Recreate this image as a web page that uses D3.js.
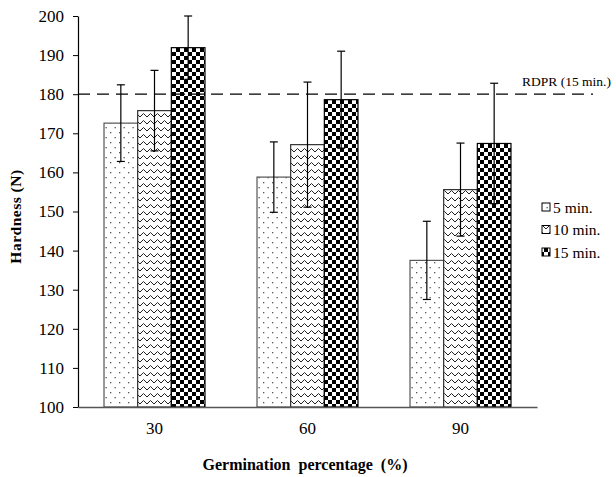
<!DOCTYPE html>
<html><head><meta charset="utf-8">
<script src="https://cdn.jsdelivr.net/npm/d3@7"></script>
<style>body{margin:0;background:#fff}</style>
</head><body>
<svg id="c" width="616" height="477"></svg>
<script>
const categories = ["30", "60", "90"];
const seriesNames = ["5 min.", "10 min.", "15 min."];
const values5 = [172.6, 158.8, 137.5];
const values10 = [175.8, 167.1, 155.6];
const values15 = [191.9, 178.6, 167.4];
const err5 = [9.8, 9.0, 10.0];
const err10 = [10.3, 16.0, 11.9];
const err15 = [8.1, 12.4, 15.4];
const yTicks = [100, 110, 120, 130, 140, 150, 160, 170, 180, 190, 200];
const refValue = 180;
const refLabel = "RDPR (15 min.)";

const FONT = "Liberation Serif";
const svg = d3.select("#c");
const L = 78, R = 537, T = 16, B = 407;
const x = d3.scaleBand().domain(categories).range([L, R]).paddingInner(0.34).paddingOuter(0.17);
const xs = d3.scaleBand().domain(seriesNames).range([0, x.bandwidth()]);
const y = d3.scaleLinear().domain([100, 200]).range([B, T]);

const defs = svg.append("defs");
const p1 = defs.append("pattern").attr("id", "pDots").attr("patternUnits", "userSpaceOnUse").attr("width", 9).attr("height", 10);
p1.append("rect").attr("width", 9).attr("height", 10).attr("fill", "#fff");
p1.append("rect").attr("x", 2).attr("y", 2).attr("width", 1.3).attr("height", 1.3).attr("fill", "#555");
p1.append("rect").attr("x", 6.5).attr("y", 7).attr("width", 1.3).attr("height", 1.3).attr("fill", "#555");
const p2 = defs.append("pattern").attr("id", "pZig").attr("patternUnits", "userSpaceOnUse").attr("width", 7).attr("height", 7);
p2.append("rect").attr("width", 7).attr("height", 7).attr("fill", "#fff");
p2.append("path").attr("d", "M0,5 L3.5,1.5 L7,5").attr("fill", "none").attr("stroke", "#222").attr("stroke-width", 1);
const p3 = defs.append("pattern").attr("id", "pChk").attr("patternUnits", "userSpaceOnUse").attr("width", 8).attr("height", 8);
p3.append("rect").attr("width", 8).attr("height", 8).attr("fill", "#fff");
p3.append("rect").attr("width", 4).attr("height", 4).attr("fill", "#000");
p3.append("rect").attr("x", 4).attr("y", 4).attr("width", 4).attr("height", 4).attr("fill", "#000");

const fills = ["url(#pDots)", "url(#pZig)", "url(#pChk)"];
const strokes = ["#555", "#333", "#000"];
const seriesVals = [values5, values10, values15];
const seriesErr = [err5, err10, err15];

const data = [];
categories.forEach((c, i) => seriesNames.forEach((s, j) => data.push({c, s, j, v: seriesVals[j][i], e: seriesErr[j][i]})));

svg.append("g").selectAll("rect").data(data).join("rect")
  .attr("x", d => x(d.c) + xs(d.s))
  .attr("y", d => y(d.v))
  .attr("width", xs.bandwidth())
  .attr("height", d => y(100) - y(d.v))
  .attr("fill", d => fills[d.j])
  .attr("stroke", d => strokes[d.j]).attr("stroke-width", 1.2);

svg.append("line").attr("x1", L).attr("x2", 593).attr("y1", y(refValue)).attr("y2", y(refValue))
  .attr("stroke", "#000").attr("stroke-width", 1.2).attr("stroke-dasharray", "12,7");
svg.append("text").attr("x", 522).attr("y", y(refValue) - 8).attr("font-size", 13.5).attr("fill", "#000").text(refLabel);

const eg = svg.append("g").attr("stroke", "#000").attr("stroke-width", 1.2);
data.forEach(d => {
  const cx = x(d.c) + xs(d.s) + xs.bandwidth() / 2;
  eg.append("line").attr("x1", cx).attr("x2", cx).attr("y1", y(d.v + d.e)).attr("y2", y(d.v - d.e));
  eg.append("line").attr("x1", cx - 4).attr("x2", cx + 4).attr("y1", y(d.v + d.e)).attr("y2", y(d.v + d.e));
  eg.append("line").attr("x1", cx - 4).attr("x2", cx + 4).attr("y1", y(d.v - d.e)).attr("y2", y(d.v - d.e));
});

const ya = svg.append("g").attr("transform", `translate(${L},0)`)
  .call(d3.axisLeft(y).tickValues(yTicks).tickSize(5).tickPadding(9).tickSizeOuter(0));
ya.attr("font-family", null);
ya.select(".domain").attr("stroke", "#000").attr("stroke-width", 1.2);
ya.selectAll(".tick line").attr("stroke", "#000");
ya.selectAll("text").attr("font-size", 17).attr("fill", "#000");

const xa = svg.append("g").attr("transform", `translate(0,${B})`)
  .call(d3.axisBottom(x).tickSize(0).tickPadding(15).tickSizeOuter(0));
xa.attr("font-family", null);
xa.select(".domain").attr("stroke", "#555").attr("stroke-width", 1.5);
xa.selectAll("text").attr("font-size", 17).attr("fill", "#000");

svg.append("text").attr("x", 305).attr("y", 470).attr("text-anchor", "middle")
  .attr("font-weight", "bold").attr("font-size", 16).attr("word-spacing", 4).text("Germination percentage (%)");
svg.append("text").attr("transform", `translate(21,${(T + B) / 2 + 5}) rotate(-90)`).attr("text-anchor", "middle")
  .attr("font-weight", "bold").attr("font-size", 15.5).attr("letter-spacing", 0.5).text("Hardness (N)");

const lg = svg.append("g");
seriesNames.forEach((s, j) => {
  const yy = 208 + j * 22.5;
  lg.append("rect").attr("x", 542).attr("y", yy - 5).attr("width", 8).attr("height", 8)
    .attr("fill", fills[j]).attr("stroke", "#000").attr("stroke-width", 1);
  lg.append("text").attr("x", 553).attr("y", yy + 4.5).attr("font-size", 15.5).attr("fill", "#000").text(s);
});

svg.selectAll("text").style("font-family", FONT);
</script>
</body></html>
